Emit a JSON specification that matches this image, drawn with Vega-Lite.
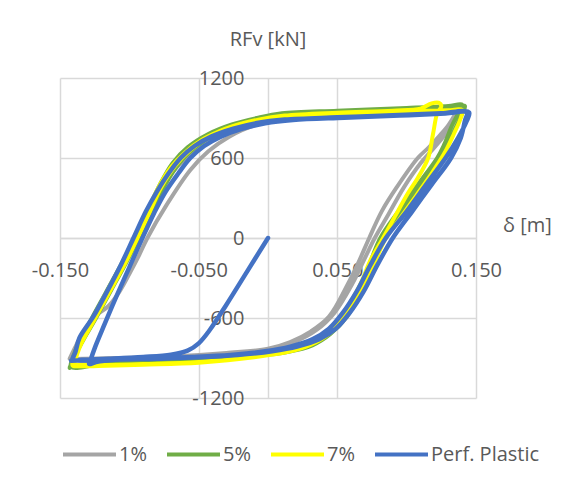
{
"$schema":"https://vega.github.io/schema/vega-lite/v6.json",
"width":416,"height":320,
"autosize":{"type":"none"},
"padding":{"left":60,"top":78,"right":110,"bottom":94},
"background":"white",
"config":{"font":"Open Sans","view":{"stroke":null}},
"title":{"text":"RFv [kN]","anchor":"middle","frame":"group","baseline":"bottom","offset":28,"dy":30,"fontSize":20,"fontWeight":"normal","color":"#595959","font":"Open Sans"},
"data":{"values":[
{"s":"1%","i":1,"x":-0.143,"y":-905},{"s":"1%","i":2,"x":-0.137,"y":-780},{"s":"1%","i":3,"x":-0.126,"y":-600},{"s":"1%","i":4,"x":-0.115,"y":-510},{"s":"1%","i":5,"x":-0.107,"y":-400},{"s":"1%","i":6,"x":-0.099,"y":-250},{"s":"1%","i":7,"x":-0.093,"y":-130},{"s":"1%","i":8,"x":-0.087,"y":0},{"s":"1%","i":9,"x":-0.073,"y":250},{"s":"1%","i":10,"x":-0.056,"y":510},{"s":"1%","i":11,"x":-0.043,"y":650},{"s":"1%","i":12,"x":-0.028,"y":760},{"s":"1%","i":13,"x":-0.008,"y":850},{"s":"1%","i":14,"x":0.02,"y":898},{"s":"1%","i":15,"x":0.06,"y":925},{"s":"1%","i":16,"x":0.1,"y":945},{"s":"1%","i":17,"x":0.135,"y":960},{"s":"1%","i":18,"x":0.131,"y":860},{"s":"1%","i":19,"x":0.124,"y":770},{"s":"1%","i":20,"x":0.116,"y":680},{"s":"1%","i":21,"x":0.108,"y":600},{"s":"1%","i":22,"x":0.093,"y":383},{"s":"1%","i":23,"x":0.082,"y":200},{"s":"1%","i":24,"x":0.073,"y":0},{"s":"1%","i":25,"x":0.066,"y":-165},{"s":"1%","i":26,"x":0.058,"y":-337},{"s":"1%","i":27,"x":0.044,"y":-590},{"s":"1%","i":28,"x":0.031,"y":-700},{"s":"1%","i":29,"x":0.016,"y":-780},{"s":"1%","i":30,"x":0.0,"y":-830},{"s":"1%","i":31,"x":-0.03,"y":-865},{"s":"1%","i":32,"x":-0.06,"y":-888},{"s":"1%","i":33,"x":-0.1,"y":-900},{"s":"1%","i":34,"x":-0.14,"y":-905},
{"s":"1%","i":35,"x":-0.139,"y":-820},{"s":"1%","i":36,"x":-0.13,"y":-660},{"s":"1%","i":37,"x":-0.119,"y":-470},{"s":"1%","i":38,"x":-0.108,"y":-260},{"s":"1%","i":39,"x":-0.098,"y":-60},{"s":"1%","i":40,"x":-0.089,"y":130},{"s":"1%","i":41,"x":-0.08,"y":320},{"s":"1%","i":42,"x":-0.07,"y":480},{"s":"1%","i":43,"x":-0.06,"y":590},{"s":"1%","i":44,"x":-0.048,"y":690},{"s":"1%","i":45,"x":-0.033,"y":770},{"s":"1%","i":46,"x":-0.015,"y":840},{"s":"1%","i":47,"x":0.01,"y":890},{"s":"1%","i":48,"x":0.05,"y":915},{"s":"1%","i":49,"x":0.1,"y":940},{"s":"1%","i":50,"x":0.138,"y":955},{"s":"1%","i":51,"x":0.134,"y":880},{"s":"1%","i":52,"x":0.128,"y":780},{"s":"1%","i":53,"x":0.12,"y":680},{"s":"1%","i":54,"x":0.11,"y":560},{"s":"1%","i":55,"x":0.098,"y":380},{"s":"1%","i":56,"x":0.087,"y":180},{"s":"1%","i":57,"x":0.077,"y":0},{"s":"1%","i":58,"x":0.069,"y":-170},{"s":"1%","i":59,"x":0.061,"y":-340},{"s":"1%","i":60,"x":0.048,"y":-560},{"s":"1%","i":61,"x":0.035,"y":-690},{"s":"1%","i":62,"x":0.02,"y":-775},{"s":"1%","i":63,"x":0.003,"y":-828},{"s":"1%","i":64,"x":-0.03,"y":-862},{"s":"1%","i":65,"x":-0.07,"y":-888},{"s":"1%","i":66,"x":-0.11,"y":-900},{"s":"1%","i":67,"x":-0.142,"y":-908},
{"s":"5%","i":1,"x":-0.143,"y":-975},{"s":"5%","i":2,"x":-0.138,"y":-820},{"s":"5%","i":3,"x":-0.128,"y":-620},{"s":"5%","i":4,"x":-0.117,"y":-410},{"s":"5%","i":5,"x":-0.106,"y":-200},{"s":"5%","i":6,"x":-0.096,"y":0},{"s":"5%","i":7,"x":-0.087,"y":200},{"s":"5%","i":8,"x":-0.078,"y":400},{"s":"5%","i":9,"x":-0.069,"y":560},{"s":"5%","i":10,"x":-0.058,"y":680},{"s":"5%","i":11,"x":-0.043,"y":780},{"s":"5%","i":12,"x":-0.026,"y":852},{"s":"5%","i":13,"x":-0.008,"y":900},{"s":"5%","i":14,"x":0.01,"y":935},{"s":"5%","i":15,"x":0.05,"y":955},{"s":"5%","i":16,"x":0.1,"y":975},{"s":"5%","i":17,"x":0.13,"y":990},{"s":"5%","i":18,"x":0.14,"y":1000},{"s":"5%","i":19,"x":0.138,"y":950},{"s":"5%","i":20,"x":0.133,"y":850},{"s":"5%","i":21,"x":0.127,"y":700},{"s":"5%","i":22,"x":0.122,"y":600},{"s":"5%","i":23,"x":0.108,"y":400},{"s":"5%","i":24,"x":0.094,"y":200},{"s":"5%","i":25,"x":0.081,"y":0},{"s":"5%","i":26,"x":0.073,"y":-200},{"s":"5%","i":27,"x":0.065,"y":-400},{"s":"5%","i":28,"x":0.055,"y":-590},{"s":"5%","i":29,"x":0.043,"y":-720},{"s":"5%","i":30,"x":0.03,"y":-800},{"s":"5%","i":31,"x":0.012,"y":-850},{"s":"5%","i":32,"x":-0.01,"y":-882},{"s":"5%","i":33,"x":-0.04,"y":-905},{"s":"5%","i":34,"x":-0.08,"y":-925},{"s":"5%","i":35,"x":-0.12,"y":-945},{"s":"5%","i":36,"x":-0.142,"y":-965},
{"s":"5%","i":37,"x":-0.135,"y":-800},{"s":"5%","i":38,"x":-0.124,"y":-600},{"s":"5%","i":39,"x":-0.113,"y":-390},{"s":"5%","i":40,"x":-0.102,"y":-180},{"s":"5%","i":41,"x":-0.092,"y":20},{"s":"5%","i":42,"x":-0.083,"y":210},{"s":"5%","i":43,"x":-0.074,"y":400},{"s":"5%","i":44,"x":-0.064,"y":560},{"s":"5%","i":45,"x":-0.053,"y":675},{"s":"5%","i":46,"x":-0.039,"y":775},{"s":"5%","i":47,"x":-0.022,"y":848},{"s":"5%","i":48,"x":-0.004,"y":897},{"s":"5%","i":49,"x":0.015,"y":930},{"s":"5%","i":50,"x":0.06,"y":952},{"s":"5%","i":51,"x":0.105,"y":970},{"s":"5%","i":52,"x":0.135,"y":985},{"s":"5%","i":53,"x":0.142,"y":990},{"s":"5%","i":54,"x":0.14,"y":930},{"s":"5%","i":55,"x":0.135,"y":820},{"s":"5%","i":56,"x":0.128,"y":660},{"s":"5%","i":57,"x":0.12,"y":540},{"s":"5%","i":58,"x":0.106,"y":340},{"s":"5%","i":59,"x":0.093,"y":150},{"s":"5%","i":60,"x":0.084,"y":0},{"s":"5%","i":61,"x":0.076,"y":-200},{"s":"5%","i":62,"x":0.067,"y":-400},{"s":"5%","i":63,"x":0.057,"y":-590},{"s":"5%","i":64,"x":0.045,"y":-720},{"s":"5%","i":65,"x":0.032,"y":-805},{"s":"5%","i":66,"x":0.014,"y":-855},{"s":"5%","i":67,"x":-0.01,"y":-885},{"s":"5%","i":68,"x":-0.045,"y":-908},{"s":"5%","i":69,"x":-0.085,"y":-925},{"s":"5%","i":70,"x":-0.125,"y":-945},{"s":"5%","i":71,"x":-0.143,"y":-970},
{"s":"7%","i":1,"x":-0.14,"y":-950},{"s":"7%","i":2,"x":-0.135,"y":-800},{"s":"7%","i":3,"x":-0.125,"y":-610},{"s":"7%","i":4,"x":-0.114,"y":-400},{"s":"7%","i":5,"x":-0.103,"y":-190},{"s":"7%","i":6,"x":-0.094,"y":0},{"s":"7%","i":7,"x":-0.085,"y":200},{"s":"7%","i":8,"x":-0.077,"y":380},{"s":"7%","i":9,"x":-0.067,"y":540},{"s":"7%","i":10,"x":-0.056,"y":660},{"s":"7%","i":11,"x":-0.042,"y":765},{"s":"7%","i":12,"x":-0.025,"y":840},{"s":"7%","i":13,"x":-0.007,"y":888},{"s":"7%","i":14,"x":0.012,"y":918},{"s":"7%","i":15,"x":0.05,"y":940},{"s":"7%","i":16,"x":0.09,"y":955},{"s":"7%","i":17,"x":0.11,"y":970},{"s":"7%","i":18,"x":0.118,"y":1010},{"s":"7%","i":19,"x":0.123,"y":1015},{"s":"7%","i":20,"x":0.125,"y":990},{"s":"7%","i":21,"x":0.122,"y":935},{"s":"7%","i":22,"x":0.119,"y":780},{"s":"7%","i":23,"x":0.1155,"y":600},{"s":"7%","i":24,"x":0.108,"y":450},{"s":"7%","i":25,"x":0.101,"y":337},{"s":"7%","i":26,"x":0.092,"y":170},{"s":"7%","i":27,"x":0.083,"y":0},{"s":"7%","i":28,"x":0.074,"y":-165},{"s":"7%","i":29,"x":0.066,"y":-360},{"s":"7%","i":30,"x":0.053,"y":-590},{"s":"7%","i":31,"x":0.041,"y":-720},{"s":"7%","i":32,"x":0.027,"y":-805},{"s":"7%","i":33,"x":0.01,"y":-860},{"s":"7%","i":34,"x":-0.01,"y":-895},{"s":"7%","i":35,"x":-0.05,"y":-935},{"s":"7%","i":36,"x":-0.09,"y":-950},{"s":"7%","i":37,"x":-0.116,"y":-958},{"s":"7%","i":38,"x":-0.136,"y":-962},{"s":"7%","i":39,"x":-0.141,"y":-955},
{"s":"7%","i":40,"x":-0.137,"y":-820},{"s":"7%","i":41,"x":-0.127,"y":-620},{"s":"7%","i":42,"x":-0.116,"y":-400},{"s":"7%","i":43,"x":-0.105,"y":-190},{"s":"7%","i":44,"x":-0.096,"y":0},{"s":"7%","i":45,"x":-0.087,"y":200},{"s":"7%","i":46,"x":-0.079,"y":380},{"s":"7%","i":47,"x":-0.07,"y":530},{"s":"7%","i":48,"x":-0.06,"y":640},{"s":"7%","i":49,"x":-0.047,"y":740},{"s":"7%","i":50,"x":-0.03,"y":820},{"s":"7%","i":51,"x":-0.01,"y":875},{"s":"7%","i":52,"x":0.01,"y":908},{"s":"7%","i":53,"x":0.05,"y":932},{"s":"7%","i":54,"x":0.1,"y":950},{"s":"7%","i":55,"x":0.13,"y":958},{"s":"7%","i":56,"x":0.14,"y":960},{"s":"7%","i":57,"x":0.139,"y":900},{"s":"7%","i":58,"x":0.134,"y":780},{"s":"7%","i":59,"x":0.128,"y":650},{"s":"7%","i":60,"x":0.119,"y":500},{"s":"7%","i":61,"x":0.107,"y":320},{"s":"7%","i":62,"x":0.094,"y":130},{"s":"7%","i":63,"x":0.085,"y":0},{"s":"7%","i":64,"x":0.077,"y":-180},{"s":"7%","i":65,"x":0.068,"y":-380},{"s":"7%","i":66,"x":0.057,"y":-570},{"s":"7%","i":67,"x":0.045,"y":-710},{"s":"7%","i":68,"x":0.031,"y":-800},{"s":"7%","i":69,"x":0.013,"y":-858},{"s":"7%","i":70,"x":-0.01,"y":-893},{"s":"7%","i":71,"x":-0.05,"y":-930},{"s":"7%","i":72,"x":-0.09,"y":-945},{"s":"7%","i":73,"x":-0.12,"y":-952},{"s":"7%","i":74,"x":-0.14,"y":-950},
{"s":"Perf. Plastic","i":1,"x":0,"y":0},{"s":"Perf. Plastic","i":2,"x":-0.015,"y":-250},{"s":"Perf. Plastic","i":3,"x":-0.03,"y":-500},{"s":"Perf. Plastic","i":4,"x":-0.042,"y":-690},{"s":"Perf. Plastic","i":5,"x":-0.05,"y":-790},{"s":"Perf. Plastic","i":6,"x":-0.058,"y":-845},{"s":"Perf. Plastic","i":7,"x":-0.07,"y":-875},{"s":"Perf. Plastic","i":8,"x":-0.09,"y":-892},{"s":"Perf. Plastic","i":9,"x":-0.115,"y":-905},{"s":"Perf. Plastic","i":10,"x":-0.134,"y":-913},{"s":"Perf. Plastic","i":11,"x":-0.141,"y":-918},
{"s":"Perf. Plastic","i":12,"x":-0.139,"y":-860},{"s":"Perf. Plastic","i":13,"x":-0.136,"y":-750},{"s":"Perf. Plastic","i":14,"x":-0.126,"y":-590},{"s":"Perf. Plastic","i":15,"x":-0.116,"y":-400},{"s":"Perf. Plastic","i":16,"x":-0.106,"y":-200},{"s":"Perf. Plastic","i":17,"x":-0.097,"y":0},{"s":"Perf. Plastic","i":18,"x":-0.088,"y":200},{"s":"Perf. Plastic","i":19,"x":-0.08,"y":350},{"s":"Perf. Plastic","i":20,"x":-0.072,"y":480},{"s":"Perf. Plastic","i":21,"x":-0.063,"y":600},{"s":"Perf. Plastic","i":22,"x":-0.053,"y":690},{"s":"Perf. Plastic","i":23,"x":-0.041,"y":760},{"s":"Perf. Plastic","i":24,"x":-0.025,"y":820},{"s":"Perf. Plastic","i":25,"x":-0.008,"y":862},{"s":"Perf. Plastic","i":26,"x":0.012,"y":888},{"s":"Perf. Plastic","i":27,"x":0.05,"y":905},{"s":"Perf. Plastic","i":28,"x":0.09,"y":920},{"s":"Perf. Plastic","i":29,"x":0.125,"y":935},{"s":"Perf. Plastic","i":30,"x":0.1435,"y":945},
{"s":"Perf. Plastic","i":31,"x":0.142,"y":880},{"s":"Perf. Plastic","i":32,"x":0.139,"y":750},{"s":"Perf. Plastic","i":33,"x":0.132,"y":600},{"s":"Perf. Plastic","i":34,"x":0.118,"y":400},{"s":"Perf. Plastic","i":35,"x":0.104,"y":200},{"s":"Perf. Plastic","i":36,"x":0.09,"y":0},{"s":"Perf. Plastic","i":37,"x":0.079,"y":-200},{"s":"Perf. Plastic","i":38,"x":0.069,"y":-400},{"s":"Perf. Plastic","i":39,"x":0.059,"y":-560},{"s":"Perf. Plastic","i":40,"x":0.049,"y":-680},{"s":"Perf. Plastic","i":41,"x":0.037,"y":-760},{"s":"Perf. Plastic","i":42,"x":0.021,"y":-815},{"s":"Perf. Plastic","i":43,"x":0.003,"y":-850},{"s":"Perf. Plastic","i":44,"x":-0.022,"y":-878},{"s":"Perf. Plastic","i":45,"x":-0.05,"y":-895},{"s":"Perf. Plastic","i":46,"x":-0.08,"y":-905},{"s":"Perf. Plastic","i":47,"x":-0.11,"y":-913},{"s":"Perf. Plastic","i":48,"x":-0.124,"y":-930},{"s":"Perf. Plastic","i":49,"x":-0.129,"y":-945},{"s":"Perf. Plastic","i":50,"x":-0.128,"y":-915},
{"s":"Perf. Plastic","i":51,"x":-0.124,"y":-800},{"s":"Perf. Plastic","i":52,"x":-0.118,"y":-650},{"s":"Perf. Plastic","i":53,"x":-0.109,"y":-430},{"s":"Perf. Plastic","i":54,"x":-0.1,"y":-220},{"s":"Perf. Plastic","i":55,"x":-0.091,"y":-10},{"s":"Perf. Plastic","i":56,"x":-0.082,"y":190},{"s":"Perf. Plastic","i":57,"x":-0.074,"y":345},{"s":"Perf. Plastic","i":58,"x":-0.065,"y":480},{"s":"Perf. Plastic","i":59,"x":-0.056,"y":600},{"s":"Perf. Plastic","i":60,"x":-0.046,"y":690},{"s":"Perf. Plastic","i":61,"x":-0.034,"y":760},{"s":"Perf. Plastic","i":62,"x":-0.019,"y":818},{"s":"Perf. Plastic","i":63,"x":-0.002,"y":860},{"s":"Perf. Plastic","i":64,"x":0.018,"y":885},{"s":"Perf. Plastic","i":65,"x":0.055,"y":902},{"s":"Perf. Plastic","i":66,"x":0.095,"y":918},{"s":"Perf. Plastic","i":67,"x":0.128,"y":933},{"s":"Perf. Plastic","i":68,"x":0.145,"y":942},
{"s":"Perf. Plastic","i":69,"x":0.143,"y":870},{"s":"Perf. Plastic","i":70,"x":0.137,"y":750},{"s":"Perf. Plastic","i":71,"x":0.128,"y":600},{"s":"Perf. Plastic","i":72,"x":0.114,"y":400},{"s":"Perf. Plastic","i":73,"x":0.1,"y":200},{"s":"Perf. Plastic","i":74,"x":0.085,"y":0},{"s":"Perf. Plastic","i":75,"x":0.074,"y":-200},{"s":"Perf. Plastic","i":76,"x":0.064,"y":-400},{"s":"Perf. Plastic","i":77,"x":0.054,"y":-560},{"s":"Perf. Plastic","i":78,"x":0.044,"y":-680},{"s":"Perf. Plastic","i":79,"x":0.032,"y":-760},{"s":"Perf. Plastic","i":80,"x":0.016,"y":-815},{"s":"Perf. Plastic","i":81,"x":-0.002,"y":-850},{"s":"Perf. Plastic","i":82,"x":-0.027,"y":-878},{"s":"Perf. Plastic","i":83,"x":-0.055,"y":-893},{"s":"Perf. Plastic","i":84,"x":-0.085,"y":-903},{"s":"Perf. Plastic","i":85,"x":-0.115,"y":-912},{"s":"Perf. Plastic","i":86,"x":-0.136,"y":-918},{"s":"Perf. Plastic","i":87,"x":-0.142,"y":-920}
]},
"encoding":{
"x":{"field":"x","type":"quantitative","scale":{"domain":[-0.15,0.15],"nice":false,"zero":false},
 "axis":{"orient":"bottom","offset":-160,"values":[-0.15,-0.05,0.05,0.15],"labelExpr":"replace(format(datum.value,'.3f'),'−','-')","grid":true,"gridColor":"#D9D9D9","gridWidth":1.5,"domainColor":"#D9D9D9","domainWidth":1.5,"ticks":false,"labelPadding":22,"labelFontSize":20,"labelColor":"#595959","labelFont":"Open Sans","labelFlush":false,"labelOverlap":false,"title":"δ [m]","titleX":467,"titleY":-13,"titleAngle":0,"titleAlign":"center","titleBaseline":"middle","titleFontSize":20,"titleFontWeight":"normal","titleColor":"#595959","titleFont":"Open Sans"}},
"y":{"field":"y","type":"quantitative","scale":{"domain":[-1200,1200],"nice":false,"zero":false},
 "axis":{"orient":"left","offset":-208,"values":[-1200,-600,0,600,1200],"labelExpr":"replace(format(datum.value,'d'),'−','-')","grid":true,"gridColor":"#D9D9D9","gridWidth":1.5,"domainColor":"#D9D9D9","domainWidth":1.5,"ticks":false,"labelPadding":24,"labelFontSize":20,"labelColor":"#595959","labelFont":"Open Sans","labelFlush":false,"labelOverlap":false,"title":null}},
"color":{"field":"s","type":"nominal","scale":{"domain":["1%","5%","7%","Perf. Plastic"],"range":["#A5A5A5","#70AD47","#FFFF00","#4472C4"]},
 "legend":{"orient":"none","legendX":1,"legendY":348,"direction":"horizontal","gridAlign":"none","title":null,"symbolType":"stroke","symbolSize":2809,"symbolStrokeWidth":4,"labelFontSize":20,"labelColor":"#595959","labelFont":"Open Sans","labelOffset":1,"columnPadding":12}},
"order":{"field":"i","type":"quantitative"}
},
"layer":[
{"transform":[{"filter":"datum.s === '1%'"}],"mark":{"type":"line","interpolate":"catmull-rom","strokeWidth":4,"strokeCap":"round","strokeJoin":"round"}},
{"transform":[{"filter":"datum.s === '5%'"}],"mark":{"type":"line","interpolate":"catmull-rom","strokeWidth":4,"strokeCap":"round","strokeJoin":"round"}},
{"transform":[{"filter":"datum.s === '7%'"}],"mark":{"type":"line","interpolate":"catmull-rom","strokeWidth":4,"strokeCap":"round","strokeJoin":"round"}},
{"transform":[{"filter":"datum.s === 'Perf. Plastic'"}],"mark":{"type":"line","interpolate":"catmull-rom","strokeWidth":4.5,"strokeCap":"round","strokeJoin":"round"}}
]
}
